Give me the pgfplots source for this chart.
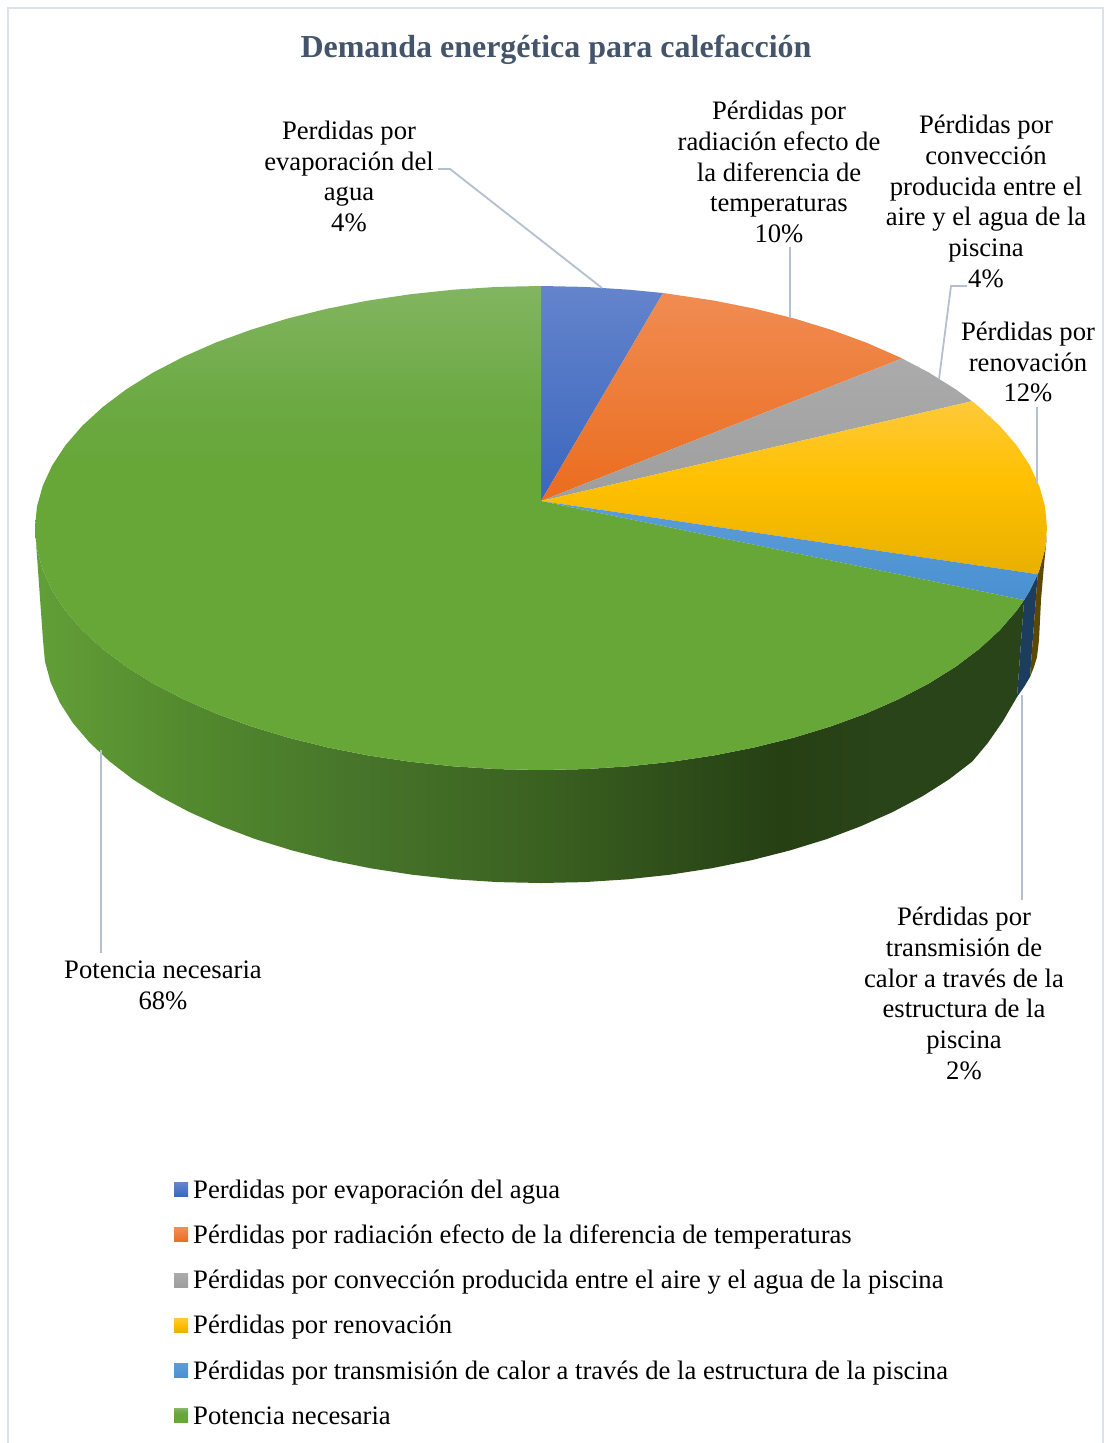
\documentclass[border=0pt]{standalone}
\usepackage{pgfplots}
\pgfplotsset{compat=1.18}
\usepackage{fontspec}
\setmainfont{Liberation Serif}
\definecolor{leader}{HTML}{B4BFCF}
\definecolor{framec}{HTML}{DDE2EA}
\definecolor{titlec}{HTML}{44546A}
\definecolor{blA}{HTML}{6484CC}\definecolor{blB}{HTML}{3A66BE}
\definecolor{orA}{HTML}{F08C52}\definecolor{orB}{HTML}{EB6C1E}
\definecolor{grA}{HTML}{ABABAB}\definecolor{grB}{HTML}{9E9E9E}
\definecolor{yeA}{HTML}{FFC93A}\definecolor{yeB}{HTML}{FFC000}\definecolor{yeC}{HTML}{E8B000}
\definecolor{lbA}{HTML}{5C9DD8}\definecolor{lbB}{HTML}{4A90D0}
\definecolor{gnA}{HTML}{82B560}\definecolor{gnB}{HTML}{6CA943}\definecolor{gnC}{HTML}{66A738}
\definecolor{sa}{HTML}{629F38}\definecolor{sb}{HTML}{5C9633}\definecolor{sc}{HTML}{538A2E}
\definecolor{sd}{HTML}{46742A}\definecolor{se}{HTML}{3A6020}\definecolor{sf}{HTML}{2F4F1A}
\definecolor{sg}{HTML}{264014}\definecolor{sh}{HTML}{2A4419}
\pgfdeclareverticalshading{shblue}{100bp}{color(0bp)=(blB);color(25bp)=(blB);color(75bp)=(blA);color(100bp)=(blA)}
\pgfdeclareverticalshading{shor}{100bp}{color(0bp)=(orB);color(25bp)=(orB);color(75bp)=(orA);color(100bp)=(orA)}
\pgfdeclareverticalshading{shgr}{100bp}{color(0bp)=(grB);color(25bp)=(grB);color(75bp)=(grA);color(100bp)=(grA)}
\pgfdeclareverticalshading{shye}{100bp}{color(0bp)=(yeC);color(25bp)=(yeC);color(52bp)=(yeB);color(75bp)=(yeA);color(100bp)=(yeA)}
\pgfdeclareverticalshading{shlb}{100bp}{color(0bp)=(lbB);color(25bp)=(lbB);color(75bp)=(lbA);color(100bp)=(lbA)}
\pgfdeclareverticalshading{shgn}{100bp}{color(0bp)=(gnC);color(25bp)=(gnC);color(56bp)=(gnC);color(63bp)=(gnB);color(75bp)=(gnA);color(100bp)=(gnA)}
\pgfdeclarehorizontalshading{shside}{100bp}{color(0bp)=(sa);color(25bp)=(sa);color(28.3bp)=(sb);color(32.4bp)=(sc);color(41.7bp)=(sd);color(51bp)=(se);color(57bp)=(sf);color(62.6bp)=(sg);color(67.7bp)=(sh);color(75bp)=(sh);color(100bp)=(sh)}
\newcommand{\lblfont}{\fontsize{26.65}{30.7}\selectfont}
\begin{document}
\begin{tikzpicture}
\useasboundingbox (0,0) rectangle (1104pt,1443pt);
\begin{axis}[
  at={(0,0)}, anchor=south west,
  width=1104pt, height=1443pt, scale only axis,
  xmin=0, xmax=1104, ymin=0, ymax=1443, y dir=reverse,
  hide axis, clip=false, no markers,
  legend image code/.code={\path[#1] (0pt,-5pt) rectangle (14pt,9pt);},
  legend cell align=left,
  legend style={at={(axis cs:174,1178.5)}, anchor=north west, draw=none, fill=none,
    inner sep=0pt, font=\lblfont, row sep=19.2pt, column sep=5pt,
    nodes={inner sep=0pt, text height=19.5pt, text depth=6.5pt}},
  every node/.append style={text=black},
]
% frame
\addplot[framec, line width=1.5pt, forget plot] coordinates {(8,1443) (8,8) (1103,8) (1103,1443)};
% side walls
\addplot[draw=none, shade, shading=shside, forget plot] coordinates {
(35,528) (36.9,549.1) (42.7,570) (52.2,590.6) (65.5,610.8) (82.4,630.3) (102.8,649) (126.5,666.8) (153.4,683.6) (183.2,699.1) (215.7,713.4) (250.8,726.2) (288,737.6) (327.2,747.3) (367.9,755.4) (410,761.7) (453.2,766.3) (496.9,769.1) (541,770) (585.1,769.1) (628.8,766.3) (672,761.7) (714.1,755.4) (754.8,747.3) (794,737.6) (831.2,726.2) (866.3,713.4) (898.8,699.1) (928.6,683.6) (955.5,666.8) (979.2,649) (999.6,630.3) (1016.5,610.8) (1024.1,600)
(1017,697) (1003,721) (988,742.7) (972.3,761.5) (949,779.4) (922.5,796.2) (893.1,811.8) (861.1,826.1) (826.7,839.1) (790,850.4) (751.5,860.2) (711.3,868.3) (669.9,874.7) (627.5,879.3) (584.4,882.1) (541,883) (497.6,882.1) (454.5,879.3) (412.1,874.7) (370.7,868.3) (330.5,860.2) (292,850.4) (255.3,839.1) (220.9,826.1) (188.9,811.8) (159.5,796.2) (133,779.4) (109.7,761.5) (89.7,742.7) (73,723.1) (60,702.9) (50.6,682.2) (44.9,661.2) (43,640) (35,528)};
\addplot[draw=none, fill={rgb,255:red,28;green,61;blue,94}, forget plot] coordinates {
(1037.7,574.2) (1029.8,590.6) (1024.1,600) (1017,697) (1024,687) (1030,677) (1037.7,574.2)};
\addplot[draw=none, fill={rgb,255:red,92;green,72;blue,0}, forget plot] coordinates {
(1047,535) (1045.1,549.1) (1039.3,570) (1037.7,574.2) (1030,677) (1034,667) (1037,657) (1039,640) (1041,600) (1044,565) (1047,535)};
% top face
\addplot[draw=none, shade, shading=shblue] coordinates {
(541,501) (541,286) (585.1,286.9) (628.8,289.7) (663,293) (541,501)};
\addlegendentry{Perdidas por evaporación del agua}
\addplot[draw=none, shade, shading=shor] coordinates {
(541,501) (663,293) (672,294.3) (714.1,300.6) (754.8,308.7) (794,318.4) (831.2,329.8) (866.3,342.6) (898.8,356.9) (902,358.4) (541,501)};
\addlegendentry{Pérdidas por radiación efecto de la diferencia de temperaturas}
\addplot[draw=none, shade, shading=shgr] coordinates {
(541,501) (902,358.4) (928.6,372.4) (955.5,389.2) (972,401.2) (541,501)};
\addlegendentry{Pérdidas por convección producida entre el aire y el agua de la piscina}
\addplot[draw=none, shade, shading=shye] coordinates {
(541,501) (972,401.2) (979.2,407) (999.6,425.7) (1016.5,445.2) (1029.8,465.4) (1039.3,486) (1045.1,506.9) (1047,528) (1045.1,549.1) (1039.3,570) (1037.7,574.2) (541,501)};
\addlegendentry{Pérdidas por renovación}
\addplot[draw=none, shade, shading=shlb] coordinates {
(541,501) (1037.7,574.2) (1029.8,590.6) (1024.1,600) (541,501)};
\addlegendentry{Pérdidas por transmisión de calor a través de la estructura de la piscina}
\addplot[draw=none, shade, shading=shgn] coordinates {
(541,501) (1024.1,600) (1016.5,610.8) (999.6,630.3) (979.2,649) (955.5,666.8) (928.6,683.6) (898.8,699.1) (866.3,713.4) (831.2,726.2) (794,737.6) (754.8,747.3) (714.1,755.4) (672,761.7) (628.8,766.3) (585.1,769.1) (541,770) (496.9,769.1) (453.2,766.3) (410,761.7) (367.9,755.4) (327.2,747.3) (288,737.6) (250.8,726.2) (215.7,713.4) (183.2,699.1) (153.4,683.6) (126.5,666.8) (102.8,649) (82.4,630.3) (65.5,610.8) (52.2,590.6) (42.7,570) (36.9,549.1) (35,528) (36.9,506.9) (42.7,486) (52.2,465.4) (65.5,445.2) (82.4,425.7) (102.8,407) (126.5,389.2) (153.4,372.4) (183.2,356.9) (215.7,342.6) (250.8,329.8) (288,318.4) (327.2,308.7) (367.9,300.6) (410,294.3) (453.2,289.7) (496.9,286.9) (541,286) (541,501)};
\addlegendentry{Potencia necesaria}
% leader lines
\addplot[leader, line width=1.8pt, forget plot] coordinates {(438,169) (450,169) (602,288)};
\addplot[leader, line width=1.8pt, forget plot] coordinates {(790,247) (790,318)};
\addplot[leader, line width=1.8pt, forget plot] coordinates {(967,286) (951,286) (939,379)};
\addplot[leader, line width=1.8pt, forget plot] coordinates {(1037,407) (1037,484)};
\addplot[leader, line width=1.8pt, forget plot] coordinates {(1022,695) (1022,900)};
\addplot[leader, line width=1.8pt, forget plot] coordinates {(101,750) (101,953)};
% text
\node[text=titlec, font=\fontsize{32}{36}\selectfont\bfseries, inner sep=0pt] at (axis cs:556,50) {Demanda energética para calefacción};
\node[align=center, font=\lblfont, inner sep=0pt] at (axis cs:349,176.5) {Perdidas por\\evaporación del\\agua\\4\%};
\node[align=center, font=\lblfont, inner sep=0pt] at (axis cs:779,172) {Pérdidas por\\radiación efecto de\\la diferencia de\\temperaturas\\10\%};
\node[align=center, font=\lblfont, inner sep=0pt] at (axis cs:986,201.5) {Pérdidas por\\convección\\producida entre el\\aire y el agua de la\\piscina\\4\%};
\node[align=center, font=\lblfont, inner sep=0pt] at (axis cs:1028,362) {Pérdidas por\\renovación\\12\%};
\node[align=center, font=\lblfont, inner sep=0pt] at (axis cs:964,993.5) {Pérdidas por\\transmisión de\\calor a través de la\\estructura de la\\piscina\\2\%};
\node[align=center, font=\lblfont, inner sep=0pt] at (axis cs:163,985) {Potencia necesaria\\68\%};
\end{axis}
\end{tikzpicture}
\end{document}
